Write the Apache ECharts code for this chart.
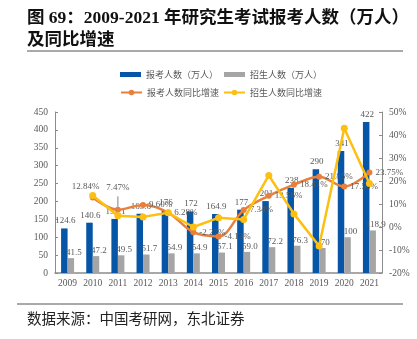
<!DOCTYPE html>
<html>
<head>
<meta charset="utf-8">
<script src="https://cdn.jsdelivr.net/npm/echarts@6/dist/echarts.min.js"></script>
<style>
  html, body { margin: 0; padding: 0; background: #fff; }
  #chart { width: 417px; height: 339px; }
</style>
</head>
<body>
<div id="chart"></div>
<script>
// 2009-2021 postgraduate entrance exam: applicants, admissions and YoY growth
const years = ['2009', '2010', '2011', '2012', '2013', '2014', '2015', '2016', '2017', '2018', '2019', '2020', '2021'];
const applicants = [124.6, 140.6, 151.1, 165.6, 176, 172, 164.9, 177, 201, 238, 290, 341, 422];
const admitted = ['41.5', '47.2', '49.5', '51.7', '54.9', '54.9', '57.1', '59.0', '72.2', '76.3', '70', '100', '118.9'];
const applicantGrowth = [null, 12.84, 7.47, 9.60, 6.28, -2.27, -4.13, 7.34, 13.56, 18.41, 21.85, 17.59, 23.75];
const admittedGrowth = [null, 13.7, 4.9, 4.4, 6.2, 0.0, 4.0, 3.3, 22.4, 5.7, -8.3, 42.9, 18.9];
const countTicks = ['0', '50', '100', '150', '200', '250', '300', '350', '400', '450'];

const serif = "'Liberation Serif', 'Noto Sans CJK SC', serif";
const cjk = "'Noto Sans CJK SC', sans-serif";
const labelGrey = '#595959';

const chart = echarts.init(document.getElementById('chart'), null, { renderer: 'canvas' });

const growthData = applicantGrowth.map(function (v, i) {
  if (v === null) return null;
  if (i === 1) return { value: v, label: { position: 'top', offset: [-7, 0] } };
  if (i === 2) return { value: v, label: { position: 'top', distance: 15 }, labelLine: { show: true } };
  return v;
});

chart.setOption({
  animation: false,
  backgroundColor: '#fff',
  title: {
    text: '图 69：2009-2021 年研究生考试报考人数（万人）\n及同比增速',
    left: 25,
    top: 3,
    padding: [4, 0, 0, 2],
    textStyle: {
      fontFamily: serif,
      fontSize: 17.5,
      fontWeight: 'bold',
      color: '#111',
      lineHeight: 22
    }
  },
  graphic: [
    { type: 'line', shape: { x1: 27, y1: 51, x2: 403, y2: 51 }, style: { stroke: '#555', lineWidth: 1 } },
    { type: 'line', shape: { x1: 17, y1: 304, x2: 403, y2: 304 }, style: { stroke: '#555', lineWidth: 1 } },
    {
      type: 'text', left: 27, top: 311,
      style: { text: '数据来源：中国考研网，东北证券', fontFamily: cjk, fontSize: 14.5, fill: '#222' }
    }
  ],
  legend: [
    {
      data: ['报考人数（万人）', '招生人数（万人）'],
      left: 120, top: 70, padding: 0,
      icon: 'rect', itemWidth: 21, itemHeight: 5, itemGap: 6,
      textStyle: { fontFamily: cjk, fontSize: 9, color: labelGrey }
    },
    {
      data: ['报考人数同比增速', '招生人数同比增速'],
      left: 120, top: 88, padding: 0,
      itemWidth: 21, itemHeight: 7, itemGap: 4,
      textStyle: { fontFamily: cjk, fontSize: 9, color: labelGrey }
    }
  ],
  grid: { left: 55, right: 35, top: 112, bottom: 66, containLabel: false },
  xAxis: {
    type: 'category',
    data: years,
    boundaryGap: true,
    axisLine: { lineStyle: { color: '#8c8c8c', width: 1.5 } },
    axisTick: { show: false },
    axisLabel: { fontFamily: serif, fontSize: 9.5, color: labelGrey, margin: 6 }
  },
  yAxis: [
    {
      type: 'value', min: 0, max: 450, interval: 50,
      axisLine: { show: true, lineStyle: { color: '#8c8c8c', width: 1 } },
      axisTick: { show: true, inside: true, length: 3, lineStyle: { color: '#8c8c8c' } },
      splitLine: { show: false },
      axisLabel: {
        fontFamily: serif, fontSize: 9.5, color: labelGrey, margin: 7,
        formatter: function (v) { return countTicks[Math.round(v / 50)]; }
      }
    },
    {
      type: 'value', min: -20, max: 50, interval: 10,
      axisLine: { show: true, lineStyle: { color: '#8c8c8c', width: 1 } },
      axisTick: { show: true, inside: true, length: 3, lineStyle: { color: '#8c8c8c' } },
      splitLine: { show: false },
      axisLabel: { fontFamily: serif, fontSize: 9.5, color: labelGrey, margin: 7, formatter: '{value}%' }
    }
  ],
  series: [
    {
      name: '报考人数（万人）',
      type: 'bar',
      yAxisIndex: 0,
      data: applicants,
      barWidth: 6.5,
      barGap: '0%',
      itemStyle: { color: '#0655a6' },
      label: {
        show: true, position: 'top', distance: 3, offset: [1, 0],
        fontFamily: serif, fontSize: 9, color: labelGrey
      },
      z: 2
    },
    {
      name: '招生人数（万人）',
      type: 'bar',
      yAxisIndex: 0,
      data: admitted.map(Number),
      barWidth: 6.5,
      barGap: '0%',
      itemStyle: { color: '#a5a5a5' },
      label: {
        show: true, position: 'top', distance: 1, offset: [3, 0],
        fontFamily: serif, fontSize: 9, color: labelGrey,
        formatter: function (p) { return admitted[p.dataIndex]; }
      },
      z: 2
    },
    {
      name: '报考人数同比增速',
      type: 'line',
      yAxisIndex: 1,
      data: growthData,
      smooth: 0.35,
      symbol: 'circle',
      symbolSize: 6,
      lineStyle: { color: '#e8803d', width: 2.5 },
      itemStyle: { color: '#e8803d' },
      labelLine: { show: false, lineStyle: { color: '#7f7f7f', width: 1 } },
      label: {
        show: true, position: 'right', distance: 3,
        fontFamily: serif, fontSize: 9, color: labelGrey,
        formatter: function (p) { return p.value.toFixed(2) + '%'; }
      },
      z: 4
    },
    {
      name: '招生人数同比增速',
      type: 'line',
      yAxisIndex: 1,
      data: admittedGrowth,
      symbol: 'circle',
      symbolSize: 7,
      lineStyle: { color: '#fcbf12', width: 2.5 },
      itemStyle: { color: '#fcbf12' },
      z: 5
    }
  ]
});
</script>
</body>
</html>
